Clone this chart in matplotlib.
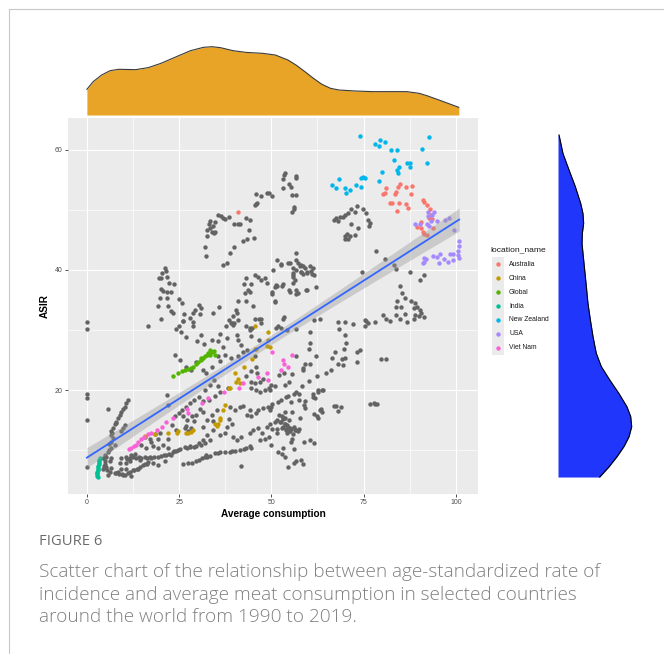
import numpy as np
import matplotlib
matplotlib.use('Agg')
import matplotlib.pyplot as plt
from matplotlib.lines import Line2D

# ---------------- data ----------------
# gray points: other countries (Average consumption, ASIR)
gray_upper = [(45.9,52.7),(47.1,52.4),(48.9,52.8),(45.9,51.0),(45.5,50.8),
    (35.6,49.2),(36.4,49.0),(36.9,48.7),(38.6,48.8),(37.3,48.5),(33.3,48.2),(33.0,47.7),(34.6,48.0),(34.2,47.3),
    (33.5,47.0),(32.6,46.6),(33.9,46.4),(34.8,46.4),(34.4,46.2),(32.5,45.6),
    (39.9,47.7),(41.0,47.6),(41.5,47.7),(43.1,48.7),(44.2,48.3),(43.8,46.6),(45.3,45.4),(43.5,45.2),(42.3,44.9),
    (39.9,43.9),(38.9,42.9),(31.9,43.8),(32.2,42.3),(36.9,40.9),(37.9,41.1),
    (21.1,40.3),(21.5,39.8),(20.4,39.5),(19.5,38.7),(20.2,38.6),(21.6,38.8),(22.2,37.9),(23.6,37.7),(20.0,36.9),
    (20.5,36.5),(21.8,36.3),(22.9,36.4),(19.8,35.3),(21.8,35.3),(19.3,34.0),(22.0,34.0),(24.9,35.2),(25.8,34.5),
    (30.4,34.1),(35.7,33.8),
    (41.0,34.8),(43.0,34.8),(42.8,36.2),(42.6,37.6),(43.1,38.6),(44.1,36.3),(44.6,37.6),(43.7,36.7),(45.5,39.2),
    (46.4,38.9),(47.3,38.4),(48.4,38.7),(48.8,37.8),(45.0,34.0)]
gray_high_mid = [(53.7,56.2),(53.3,55.9),(53.2,55.1),(56.6,55.7),(56.8,55.3),(54.9,54.4),(55.2,53.9),(53.1,53.6),
    (55.5,52.5),(56.6,52.5),(56.1,50.1),(55.5,49.7),(56.0,50.5),(49.3,52.8),(50.2,52.3),(46.2,51.1),
    (56.6,42.8),(51.4,41.7),(52.5,40.8),(54.6,41.1),(56.8,41.7),(57.3,41.1),(55.8,40.4),(56.7,40.0),(57.8,40.6),
    (58.7,40.7),(59.1,40.3),(59.6,39.7),(60.5,40.6),(61.2,40.4),(60.9,39.4),(61.5,39.2),(58.7,39.3),(57.9,39.6),
    (55.8,39.2),(56.4,38.4),(50.5,40.0),(51.2,37.5),(51.0,37.1),(51.6,37.3),(52.9,37.3),(54.9,36.6),(56.7,36.0),
    (57.3,36.1),(59.6,36.6),(62.0,37.2),(50.1,36.4),(51.0,34.7),
    (55.0,41.2),(58.1,40.9),(60.8,39.8),(59.7,39.5),(58.1,39.7),(55.9,39.5),(55.9,38.8),(53.1,37.7),(55.9,37.8),
    (59.5,36.7),(56.8,36.6),(55.0,36.4),(50.2,36.0),(50.9,34.8),(52.7,41.0),
    (40.6,32.9),(39.7,32.4),(38.6,31.6),(39.2,31.2),(40.0,31.1),(37.7,30.7),(41.0,31.7),(46.7,31.8),(47.1,31.1),
    (44.7,30.3),(44.1,30.3),(34.1,32.8),(28.8,32.9),(27.9,32.0),(26.1,31.5),(24.9,30.7),(23.4,32.8)]
gray_right = [(73.3,50.6),(71.5,50.2),(74.8,50.1),(72.7,49.7),(70.8,49.5),(75.7,49.5),(70.0,49.2),(69.4,48.8),
    (68.5,48.8),(67.6,48.6),(68.1,48.2),(67.1,48.4),(76.2,48.4),(76.6,47.8),(76.4,47.4),(71.5,47.7),(73.6,47.0),
    (70.6,46.0),(70.0,45.6),(71.2,45.6),(70.8,45.2),(72.6,45.8),(69.9,45.2),
    (78.4,43.1),(80.7,41.9),(83.9,40.2),(83.2,40.9),(74.6,39.7),(87.5,39.7),(90.2,38.4),(91.4,39.2),(84.8,37.3),
    (85.4,36.2),(86.1,35.3),(87.9,34.8),(89.0,34.5),(84.1,34.9),
    (88.6,33.7),(89.5,33.9),(90.2,33.3),(90.6,32.9),(80.2,32.5),(83.9,32.5),(84.8,31.9),(86.3,32.6),(88.8,32.5),
    (89.9,32.3),(91.5,32.1),(88.6,31.8),(86.8,31.3),(81.1,31.8),(82.1,31.5),(78.2,31.4),(75.7,31.5),(75.3,31.7),
    (75.5,30.6),(76.2,31.1),(72.1,31.0),(69.9,31.3),(68.1,31.3),(68.2,30.2),(83.9,33.9),(85.2,33.9)]
gray_mid = [(70.0,29.2),(70.3,27.9),(69.7,26.9),(67.3,26.3),(66.4,25.3),(68.1,24.3),(69.4,24.2),(69.1,25.2),
    (70.0,25.4),(73.3,26.4),(73.9,26.7),(73.3,24.6),(79.8,25.2),(81.1,25.2),(66.2,23.3),(64.9,22.8),(62.4,22.4),
    (60.4,29.6),(60.4,27.9),(60.1,26.8),(62.0,25.7),(60.4,24.4),(58.6,23.6),(60.3,21.5),(61.5,31.7),(63.1,31.9),
    (53.1,31.9),(53.4,32.2),(51.8,30.7),(52.5,30.3),(51.3,30.4),
    (55.6,22.6),(53.4,22.8),(52.2,22.5),(54.7,21.4),(53.8,20.9),(50.9,20.7),(49.5,20.0),(56.1,19.3),(57.4,19.3),
    (54.0,18.9),(52.7,18.3),(51.8,18.0),(55.4,18.0),(57.4,18.3),(59.0,18.1),(58.8,17.5),(59.2,17.0),(61.3,19.4),
    (62.6,20.0),(63.7,20.0),(61.7,18.7),(61.5,16.0),(62.6,15.4),(63.7,16.3),(63.4,16.8),(67.1,17.4),(68.1,16.5),
    (69.0,17.1),(76.6,17.6),(77.8,17.9),(78.2,17.7),(78.7,17.6),(49.8,17.2),(50.2,17.6),
    (54.1,30.0),(56.8,30.1),(56.8,25.7),(59.1,24.4),(58.5,23.4),(64.1,20.0),(62.7,19.6),(61.4,18.8),(63.2,16.7),
    (62.3,15.7),(54.6,19.0),(56.8,19.7),(58.2,20.6),(67.5,17.3)]
gray_low_mid = [(52.2,15.8),(53.1,15.4),(50.9,14.6),(52.7,14.7),(53.6,14.4),(54.7,15.0),(52.9,13.7),(54.0,13.5),
    (55.0,13.2),(55.4,13.5),(54.3,12.8),(56.3,13.3),(57.4,13.5),(55.9,12.6),(51.6,13.5),(50.2,13.5),(51.6,12.9),
    (55.4,11.4),(55.6,11.8),(56.1,10.2),(53.1,10.4),(51.8,9.7),(52.9,9.3),(53.8,8.9),(58.8,11.3),(60.4,11.7),
    (61.5,11.1),(49.8,10.8),(58.1,8.3),(56.8,8.1),(56.1,7.8),(54.5,7.1),(58.6,7.6),(57.7,15.3),(55.6,16.3),
    (53.8,16.4),(51.6,15.0),(52.3,14.7),(53.1,15.1),(53.7,14.4),(54.1,14.2),(54.6,13.9),(55.0,13.6),(56.1,13.8),
    (56.8,13.4),(57.3,13.1),(53.2,13.9),(54.0,13.3),(54.7,13.1),(52.8,15.6),(53.7,15.4)]
gray_center = [(24.1,30.1),(25.4,29.7),(26.9,28.9),(28.7,30.7),(30.8,29.2),(29.9,28.1),(31.7,27.7),(33.8,28.3),
    (36.1,29.4),(35.6,28.1),(37.0,27.2),(37.9,28.6),(39.0,31.1),(39.6,30.8),(40.6,29.2),(41.0,28.3),(41.9,27.5),
    (43.1,30.6),(44.2,30.0),(44.6,29.0),(46.7,28.4),
    (23.9,25.8),(25.2,25.0),(26.9,23.9),(28.1,23.3),(29.7,24.6),(31.6,23.3),(32.3,22.9),(33.8,23.9),(35.6,25.7),
    (36.0,24.9),(37.4,25.8),(39.0,25.4),(41.0,25.7),(42.2,26.4),(43.5,26.7),(45.6,25.6),(45.8,23.9),(46.2,22.8),
    (44.6,23.1),(43.1,22.3),(44.6,21.4),(45.6,21.2),(46.9,21.4),(47.8,21.8),(44.4,20.3),(45.8,20.0),(46.9,19.7),
    (48.3,20.0),(49.4,20.3),(50.0,20.8),
    (33.4,20.8),(34.4,21.6),(35.6,20.7),(38.3,20.3),(32.0,20.0),(30.5,18.9),(29.0,18.3),(27.9,17.8),(26.9,17.1),
    (25.7,16.6),(31.6,18.1),(33.2,18.3),(34.7,19.0),(36.1,19.6),(30.6,16.9),(31.6,16.4),(29.7,15.8),(28.4,15.6),
    (29.0,14.9),(27.0,15.0),(26.1,15.6),(25.0,16.2),(23.9,15.6),(23.0,14.2),(24.1,13.4),(26.6,13.6),(26.9,14.0),
    (27.5,13.2),(28.1,13.6),(31.6,13.9),(32.5,15.0),(34.3,14.9),(33.8,15.8),(35.2,16.7),(38.8,17.2),(40.1,16.7),
    (41.5,17.1),(42.4,17.3),(43.5,15.8),(44.4,15.6),(45.8,16.1),(46.5,16.7),(47.8,17.0),(49.2,17.1),(49.6,16.6),
    (44.2,16.7),
    (38.6,15.1),(39.2,14.4),(37.9,13.9),(34.3,13.3),(36.1,12.5),(37.4,12.8),(32.5,12.5),(31.4,11.7),(30.5,11.1),
    (29.7,10.6),(27.9,10.7),(26.6,10.5),(23.4,9.6),(24.8,10.0),(39.7,12.1),(40.6,11.7),(41.7,12.2),(44.2,12.8),
    (45.1,13.3),(46.5,13.6),(47.4,12.9),(48.9,13.8),(49.5,14.4),(49.4,12.2),(48.3,11.9),(46.9,11.7),(44.2,10.7),
    (44.6,10.3),(41.5,10.0),(40.1,9.9),(38.8,9.7),(37.4,9.7),(34.7,9.5),(32.3,9.2),(32.5,8.8),(32.0,8.8),
    (28.4,7.9),(27.5,7.8),(41.9,7.3)]
gray_left = [(0.0,31.4),(0.0,30.2),(0.0,19.3),(0.0,18.6),(0.0,15.0),(0.0,7.2),
    (22.9,33.1),(20.0,31.8),(16.6,30.7),(26.0,31.5),(26.3,32.6),(28.8,31.3),(29.4,33.3),(30.6,32.6),(31.0,33.6),
    (40.5,33.3),(45.5,31.9),(47.3,31.9),
    (21.8,19.1),(22.0,17.5),(22.0,11.9),(19.3,11.9),(17.5,11.4),(22.9,9.2),(21.5,9.2),(19.3,8.9),(17.5,8.6),
    (16.6,8.0),(15.2,7.5),(13.9,6.9),(12.5,6.7),(11.1,6.1),(9.8,5.8),(10.7,6.9),(9.3,6.9),(8.9,7.8),(9.3,8.6),
    (10.7,8.9),(12.0,9.2),(13.0,9.4),(21.1,8.1),(19.3,7.5),(17.9,7.8),
    (15.7,12.2),(17.0,11.9),(18.4,12.6),(19.7,12.8),(14.8,10.8),(16.1,10.3),(17.9,10.6),(19.3,10.3),(20.6,10.8),
    (22.0,10.3),(10.7,7.8),(11.6,8.1),(13.4,8.6),(14.3,8.3),(15.7,8.9),(8.4,6.4),(7.5,6.1),(12.0,5.6),
    (11.1,18.3),(10.7,17.8),(10.2,17.2),(9.8,16.8),(9.3,16.4),(8.9,15.8),(8.4,15.3),(8.0,14.7),(7.5,14.3),
    (7.1,13.7),(6.6,13.1),(6.4,12.5),(7.1,12.0),(6.4,11.4),(5.7,16.9),(7.5,10.8),(6.6,10.3),(5.7,9.7),(5.3,8.9),
    (5.0,8.1),(5.3,7.2),(5.5,6.7),(6.2,6.4),(6.6,7.0),(6.2,8.1),(6.4,8.6),(4.4,6.9),(9.3,13.1),(9.8,13.7),
    (10.2,14.1),(4.4,8.6),(4.8,7.6),(5.7,5.9)]
gray_bottom = [(8.0,6.2),(8.8,6.0),(9.5,6.0),(10.3,5.9),(11.6,6.3),(12.9,6.6),(13.5,6.8),(14.5,7.2),(15.8,7.6),
    (16.2,7.7),(11.0,8.5),(11.8,8.7),(12.6,8.9),(14.0,8.9),(14.8,8.6),(16.2,8.7),(17.0,8.8),(18.2,8.8),(20.0,9.0),
    (20.8,9.1),(22.2,9.3),(23.5,9.8),(24.2,9.9),(25.3,10.1),(27.0,10.3),(28.0,10.5),(29.0,10.5),(31.0,10.9),
    (32.0,11.2),(33.3,11.6),(26.0,7.7),(29.5,8.1),(30.5,8.4),(31.2,8.6),(33.4,9.0),(35.5,9.5),(36.2,9.6),
    (42.5,10.1),(43.2,10.4),(39.4,9.8),(4.6,7.3),(5.0,9.2),(5.9,10.0),(6.0,11.0),(6.8,12.8),(7.8,14.5)]

australia = [(40.95,49.7),(84.9,54.3),(84.3,53.8),(86.4,53.8),(88.1,54.0),(81.2,53.7),(80.9,52.8),(83.8,53.0),
    (83.4,52.7),(80.3,52.7),(87.9,52.6),(82.1,51.2),(82.7,51.2),(84.5,51.2),(86.6,51.0),(87.0,50.3),(84.1,49.8),
    (91.0,51.7),(91.5,51.3),(92.1,50.8),(93.0,50.2),(93.2,49.2),(92.6,48.7),(93.5,48.5),(90.5,48.0),(89.5,47.1),
    (90.6,47.0),(91.2,46.4),(91.5,46.0),(92.1,45.8),(93.8,47.0)]
china = [(15.7,12.4),(18.5,12.7),(22.0,12.8),(24.5,12.9),(24.7,13.1),(26.9,12.8),(27.4,12.9),(28.1,13.0),
    (28.7,13.3),(34.6,14.4),(35.2,14.0),(35.6,14.4),(36.0,15.0),(36.1,15.3),(36.8,16.6),(37.4,17.5),(38.6,20.3),
    (38.7,20.4),(40.4,21.4),(41.0,21.9),(41.5,21.1),(40.1,22.9),(42.6,23.9),(44.7,25.1),(45.6,26.8),(45.8,26.8),
    (48.7,27.3),(49.6,27.1),(49.2,28.3),(49.0,29.6),(45.6,30.7)]
global_ = [(23.4,22.3),(24.7,22.8),(25.8,23.1),(26.5,23.3),(27.4,23.5),(28.1,23.7),(28.8,23.9),(29.6,24.3),
    (30.1,24.6),(30.8,25.0),(31.5,25.3),(32.1,25.6),(32.6,25.8),(33.3,25.9),(33.9,26.3),(34.4,26.5),(33.5,26.7),
    (34.6,25.8),(32.8,26.1),(31.0,25.4)]
india = [(3.5,8.7),(3.4,8.4),(3.3,8.2),(3.2,7.9),(3.2,7.6),(3.1,7.4),(3.0,7.1),(2.9,6.8),(2.9,6.6),(2.8,6.4),
    (2.8,6.2),(2.8,6.0),(2.8,5.7),(2.9,5.5)]
new_zealand = [(73.9,62.4),(78.2,61.0),(79.2,60.6),(79.4,61.6),(80.9,61.3),(82.4,60.0),(84.1,60.0),(92.8,62.2),
    (90.8,60.2),(83.3,58.3),(86.7,57.8),(87.7,57.8),(84.7,57.2),(87.7,57.1),(92.2,57.8),(84.0,56.6),(84.3,56.2),
    (80.0,56.3),(79.3,54.8),(74.9,55.5),(74.4,55.3),(75.3,55.3),(68.3,55.2),(66.5,54.1),(67.5,53.7),(69.9,53.6),
    (71.2,53.4),(70.1,52.9),(72.8,54.1),(74.4,53.9)]
usa = [(92.4,49.7),(93.5,49.2),(94.2,49.7),(92.4,49.0),(93.2,48.2),(95.0,48.1),(97.0,48.4),(98.2,48.7),(88.8,47.7),
    (90.3,47.6),(92.3,47.6),(92.8,47.3),(99.5,46.7),(100.75,44.8),(100.75,44.0),(100.6,43.1),(100.6,42.5),
    (100.9,42.0),(99.3,42.6),(98.3,42.6),(99.3,41.6),(97.9,41.4),(96.8,41.8),(95.7,42.6),(93.9,42.4),(94.8,42.1),
    (95.3,41.2),(91.5,42.0),(91.4,41.3),(91.0,41.1),(91.9,41.9)]
viet_nam = [(11.4,10.1),(12.0,10.3),(12.7,10.6),(13.4,10.9),(13.9,11.4),(14.6,11.8),(15.5,12.2),(16.6,12.6),
    (17.5,12.9),(19.1,13.3),(20.4,13.9),(21.5,14.6),(23.4,15.3),(27.0,16.9),(27.4,16.1),(31.2,17.8),(32.8,18.6),
    (37.2,19.6),(41.3,20.3),(42.4,21.1),(46.5,22.2),(48.9,22.8),(49.0,21.6),(52.5,23.3),(54.6,23.9),(53.4,24.4),
    (53.1,25.0),(55.7,25.8),(50.3,26.4)]

locations = ['Australia', 'China', 'Global', 'India', 'New Zealand', 'USA', 'Viet Nam']
loc_colors = ['#F8766D', '#C49A00', '#53B400', '#00C094', '#00B6EB', '#A58AFF', '#FB61D7']

# marginal density of Average consumption (top) (relative height)
cons_grid = [0.0, 1.7, 4.0, 6.3, 8.6, 13.2, 16.6, 20.1, 24.7, 28.1, 31.6, 33.9, 36.2, 39.6, 43.1, 47.6,
             51.1, 54.5, 56.8, 59.1, 61.4, 63.7, 66.0, 68.3, 72.9, 77.5, 82.1, 86.7, 90.1, 92.4, 95.9, 100.8]
cons_dens = [0.376, 0.488, 0.586, 0.649, 0.669, 0.664, 0.693, 0.757, 0.864, 0.942, 0.991, 1.0, 0.986, 0.942,
             0.917, 0.903, 0.878, 0.805, 0.727, 0.634, 0.537, 0.449, 0.391, 0.366, 0.351, 0.342, 0.342, 0.342,
             0.317, 0.278, 0.210, 0.112]
# marginal density of ASIR (right), relative width
asir_grid = [62.5, 59.4, 56.7, 53.9, 51.1, 49.4, 47.8, 46.1, 44.4, 42.8, 40.0, 37.2, 34.4, 31.7, 28.9, 26.1,
             23.9, 21.7, 19.4, 17.2, 15.6, 13.9, 12.2, 10.6, 8.9, 7.2, 5.5]
asir_dens = [0.014, 0.068, 0.149, 0.235, 0.308, 0.339, 0.348, 0.330, 0.326, 0.339, 0.362, 0.385, 0.407, 0.439,
             0.475, 0.520, 0.588, 0.701, 0.828, 0.936, 0.986, 1.0, 0.963, 0.896, 0.801, 0.692, 0.566]

x_ticks = [0, 25, 50, 75, 100]
y_ticks = [20, 40, 60]

caption_head = 'FIGURE 6'
caption_lines = ['Scatter chart of the relationship between age-standardized rate of',
                 'incidence and average meat consumption in selected countries',
                 'around the world from 1990 to 2019.']

# ---------------- figure ----------------
W, H, DPI = 664, 654, 100
fig = plt.figure(figsize=(W / DPI, H / DPI), dpi=DPI)
fig.patch.set_facecolor('white')

def fx(px):
    return px / W

def fy(py):
    return 1 - py / H

XL = (-5.12, 106.0)
YL = (2.67, 65.33)
PL, PR, PT, PB = 68, 478, 118, 494
PT_SIZE = 10

ax = fig.add_axes([fx(PL), fy(PB), (PR - PL) / W, (PB - PT) / H])
ax.set_facecolor('#EBEBEB')
ax.set_xlim(*XL)
ax.set_ylim(*YL)
for s in ax.spines.values():
    s.set_visible(False)
ax.set_xticks(x_ticks)
ax.set_yticks(y_ticks)
ax.set_xticks([12.5, 37.5, 62.5, 87.5], minor=True)
ax.set_yticks([10, 30, 50], minor=True)
ax.grid(which='major', color='white', lw=0.85)
ax.grid(which='minor', color='white', lw=0.45)
ax.set_axisbelow(True)
ax.tick_params(which='major', length=2.2, width=0.6, color='#333333', labelsize=5, labelcolor='#4D4D4D', pad=1.5)
ax.tick_params(which='minor', length=0)
for lab in ax.get_xticklabels() + ax.get_yticklabels():
    lab.set_fontfamily('Liberation Sans')

gray_all = np.array(gray_upper + gray_high_mid + gray_right + gray_mid + gray_low_mid + gray_center
                    + gray_left + gray_bottom)
ax.scatter(gray_all[:, 0], gray_all[:, 1], s=PT_SIZE, color='#636363', lw=0, zorder=2)
groups = [australia, china, global_, india, new_zealand, usa, viet_nam]
for g, c in zip(groups, loc_colors):
    a = np.array(g)
    ax.scatter(a[:, 0], a[:, 1], s=PT_SIZE, color=c, lw=0, zorder=3)

# linear fit with 95% band
allp = np.vstack([gray_all] + [np.array(g) for g in groups])
xa, ya = allp[:, 0], allp[:, 1]
b1, b0 = np.polyfit(xa, ya, 1)
xs = np.linspace(xa.min(), xa.max(), 100)
yh = b0 + b1 * xs
n = len(xa)
res = ya - (b0 + b1 * xa)
sd = np.sqrt(np.sum(res ** 2) / (n - 2))
sxx = np.sum((xa - xa.mean()) ** 2)
se = sd * np.sqrt(1 / n + (xs - xa.mean()) ** 2 / sxx)
ax.fill_between(xs, yh - 1.96 * se, yh + 1.96 * se, color='#999999', alpha=0.4, lw=0, zorder=4)
ax.plot(xs, yh, color='#3366FF', lw=1.3, zorder=5)

ax.set_xlabel('Average consumption', fontsize=7.2, fontweight='bold', family='Liberation Sans', labelpad=2)
ax.set_ylabel('ASIR', fontsize=7.2, fontweight='bold', family='Liberation Sans', labelpad=4)

# top marginal density
tax = fig.add_axes([fx(PL), fy(115), (PR - PL) / W, 75 / H])
tax.fill_between(cons_grid, 0, cons_dens, color='#E8A427', lw=0)
tax.plot(cons_grid, cons_dens, color='#3a3a3a', lw=0.8)
tax.set_xlim(*XL)
tax.set_ylim(0, 75 / 68.3)
tax.axis('off')

# right marginal density
rax = fig.add_axes([fx(558), fy(PB), 90 / W, (PB - PT) / H])
rax.fill_betweenx(asir_grid, 0, asir_dens, color='#2036FA', lw=0)
rax.plot(asir_dens, asir_grid, color='black', lw=0.8)
rax.set_ylim(*YL)
rax.set_xlim(0, 90 / 73.7)
rax.axis('off')

# legend
kx0, kx1, ky0, ky1 = 491.7, 504.3, 257.3, 354.7
lax = fig.add_axes([fx(kx0), fy(ky1), (kx1 - kx0) / W, (ky1 - ky0) / H])
lax.set_facecolor('#EBEBEB')
lax.set_xlim(0, 1)
lax.set_ylim(len(locations) - 0.5, -0.5)
lax.set_xticks([])
lax.set_yticks([])
for s in lax.spines.values():
    s.set_visible(False)
for i, (nm, c) in enumerate(zip(locations, loc_colors)):
    lax.scatter(0.5, i, s=PT_SIZE, color=c, lw=0)
    lax.text((509 - kx0) / (kx1 - kx0), i, nm, fontsize=4.9, va='center', ha='left',
             family='Liberation Sans', color='#1a1a1a')
fig.text(fx(490.7), fy(250), 'location_name', fontsize=6.1, va='center', ha='left',
         family='Liberation Sans', color='#1a1a1a')

# caption
fig.text(fx(39), fy(545), caption_head, fontsize=10.6, color='#6b6b6b', family='Open Sans', va='baseline')
for i, line in enumerate(caption_lines):
    fig.text(fx(39), fy(577 + 22.6 * i), line, fontsize=13.7, color='#808080', family='Open Sans',
             fontweight='light', va='baseline')

# page border
fig.add_artist(Line2D([fx(8.5), fx(8.5)], [fy(9), 0], color='#c8c8c8', lw=0.8))
fig.add_artist(Line2D([fx(8.5), 1], [fy(9), fy(9)], color='#c8c8c8', lw=0.8))

fig.savefig('out.png', dpi=DPI, facecolor='white')
